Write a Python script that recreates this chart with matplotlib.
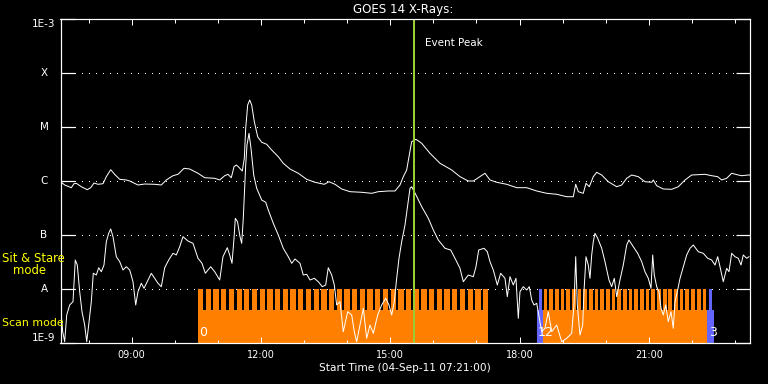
import matplotlib
matplotlib.use("Agg")
import matplotlib.pyplot as plt
import numpy as np
from matplotlib.ticker import NullLocator

# ---------------- data ----------------
# GOES 14 long channel (1-8 A): (clock hour, log10 flux W/m^2)
long_channel = [
    (7.355, -6.013), (7.447, -6.074), (7.601, -6.124), (7.663, -6.05), (7.717, -6.043),
    (7.833, -6.106), (7.972, -6.161), (8.051, -6.124), (8.127, -6.037), (8.22, -6.061),
    (8.336, -6.05), (8.413, -5.92), (8.515, -5.791), (8.621, -5.889), (8.724, -5.969),
    (8.877, -5.981), (8.956, -6.0), (9.148, -6.074), (9.304, -6.056), (9.536, -6.061),
    (9.689, -6.074), (9.805, -5.981), (9.96, -5.902), (10.076, -5.876), (10.215, -5.765),
    (10.348, -5.778), (10.54, -5.857), (10.696, -5.939), (10.928, -5.95), (11.044, -5.981),
    (11.16, -5.902), (11.236, -5.876), (11.313, -5.939), (11.376, -5.735), (11.429, -5.704),
    (11.475, -5.735), (11.568, -5.815), (11.615, -5.58), (11.647, -5.024), (11.693, -4.593),
    (11.74, -4.5), (11.786, -4.593), (11.847, -4.902), (11.925, -5.18), (12.018, -5.283),
    (12.134, -5.32), (12.25, -5.426), (12.403, -5.55), (12.519, -5.672), (12.675, -5.778),
    (12.867, -5.857), (13.062, -5.969), (13.255, -6.024), (13.471, -6.061), (13.58, -6.013),
    (13.719, -6.061), (13.874, -6.148), (14.067, -6.198), (14.338, -6.209), (14.57, -6.228),
    (14.724, -6.198), (14.956, -6.185), (15.111, -6.185), (15.227, -6.074), (15.304, -5.92),
    (15.382, -5.796), (15.436, -5.55), (15.498, -5.272), (15.598, -5.228), (15.731, -5.302),
    (15.923, -5.487), (16.155, -5.672), (16.427, -5.796), (16.619, -5.92), (16.812, -6.0),
    (16.928, -6.0), (17.044, -5.939), (17.199, -5.857), (17.315, -5.981), (17.471, -6.024),
    (17.703, -6.061), (17.935, -6.124), (18.167, -6.124), (18.399, -6.185), (18.631, -6.228),
    (18.863, -6.246), (19.095, -6.291), (19.248, -6.291), (19.304, -6.061), (19.364, -6.198),
    (19.48, -6.228), (19.543, -6.043), (19.619, -6.106), (19.712, -5.92), (19.791, -5.839),
    (19.907, -5.889), (20.06, -6.013), (20.255, -6.106), (20.371, -6.074), (20.487, -5.95),
    (20.603, -5.889), (20.756, -5.92), (20.911, -6.013), (21.067, -6.024), (21.104, -5.981),
    (21.183, -6.087), (21.336, -6.148), (21.531, -6.154), (21.684, -6.106), (21.84, -5.981),
    (21.995, -5.889), (22.304, -5.876), (22.459, -5.902), (22.598, -5.92), (22.691, -5.981),
    (22.807, -5.95), (22.923, -5.857), (23.076, -5.889), (23.155, -5.902), (23.308, -5.889),
    (23.348, -5.889),
]

# GOES 14 short channel (0.5-4 A): (clock hour, log10 flux W/m^2)
short_channel = [
    (7.355, -8.357), (7.401, -8.791), (7.447, -8.976), (7.494, -8.481), (7.563, -8.296),
    (7.64, -8.235), (7.693, -7.463), (7.74, -7.556), (7.795, -8.05), (7.849, -8.42),
    (7.911, -8.667), (7.958, -8.976), (8.004, -8.667), (8.065, -8.235), (8.111, -7.709),
    (8.181, -7.741), (8.236, -7.606), (8.297, -7.68), (8.359, -7.556), (8.413, -7.124),
    (8.468, -6.969), (8.515, -6.889), (8.568, -7.031), (8.645, -7.402), (8.724, -7.494),
    (8.8, -7.648), (8.877, -7.587), (8.956, -7.648), (9.032, -7.865), (9.095, -8.296),
    (9.148, -8.05), (9.225, -7.894), (9.287, -7.987), (9.38, -7.833), (9.457, -7.709),
    (9.536, -7.802), (9.612, -7.894), (9.689, -7.957), (9.768, -7.606), (9.86, -7.463),
    (9.96, -7.339), (10.037, -7.37), (10.116, -7.217), (10.192, -7.031), (10.308, -7.111),
    (10.424, -7.154), (10.54, -7.431), (10.633, -7.524), (10.71, -7.709), (10.835, -7.587),
    (10.928, -7.68), (11.044, -7.833), (11.12, -7.402), (11.22, -7.235), (11.276, -7.37),
    (11.329, -7.524), (11.376, -7.061), (11.406, -6.691), (11.457, -6.754), (11.515, -7.031),
    (11.554, -7.154), (11.591, -6.691), (11.647, -5.704), (11.677, -5.333), (11.724, -5.117),
    (11.77, -5.394), (11.833, -5.889), (11.902, -6.135), (12.018, -6.352), (12.111, -6.394),
    (12.171, -6.537), (12.287, -6.783), (12.403, -7.0), (12.519, -7.246), (12.635, -7.402),
    (12.714, -7.524), (12.791, -7.444), (12.907, -7.524), (12.983, -7.741), (13.062, -7.728),
    (13.139, -7.833), (13.239, -7.802), (13.331, -7.865), (13.424, -7.957), (13.503, -7.926),
    (13.563, -7.606), (13.642, -7.741), (13.703, -7.926), (13.758, -8.296), (13.835, -8.235),
    (13.911, -8.791), (14.014, -8.42), (14.106, -8.481), (14.167, -8.791), (14.222, -8.976),
    (14.299, -8.667), (14.376, -8.357), (14.454, -8.913), (14.531, -8.667), (14.608, -8.82),
    (14.71, -8.481), (14.802, -8.296), (14.895, -8.172), (14.972, -8.296), (15.034, -8.481),
    (15.095, -8.235), (15.15, -7.802), (15.204, -7.431), (15.266, -7.124), (15.343, -6.815),
    (15.406, -6.444), (15.459, -6.135), (15.498, -6.106), (15.598, -6.259), (15.731, -6.476),
    (15.884, -6.691), (16.0, -6.907), (16.116, -7.093), (16.271, -7.246), (16.403, -7.278),
    (16.503, -7.431), (16.619, -7.617), (16.696, -7.865), (16.812, -7.741), (16.928, -7.772),
    (16.99, -7.587), (17.053, -7.278), (17.176, -7.246), (17.253, -7.309), (17.315, -7.494),
    (17.392, -7.648), (17.485, -7.926), (17.563, -7.709), (17.663, -7.802), (17.717, -8.143),
    (17.779, -7.772), (17.856, -7.926), (17.918, -7.802), (17.972, -8.543), (18.011, -8.05),
    (18.088, -7.957), (18.167, -8.019), (18.227, -7.957), (18.283, -8.204), (18.336, -8.296),
    (18.399, -8.265), (18.459, -8.543), (18.515, -8.791), (18.591, -8.728), (18.668, -8.42),
    (18.747, -8.791), (18.863, -8.667), (18.979, -8.976), (19.095, -8.913), (19.211, -8.82),
    (19.264, -8.296), (19.304, -7.402), (19.341, -8.296), (19.403, -8.852), (19.466, -8.667),
    (19.496, -8.05), (19.543, -7.402), (19.596, -7.556), (19.635, -7.802), (19.675, -7.37),
    (19.712, -7.124), (19.751, -6.969), (19.814, -7.061), (19.907, -7.246), (19.983, -7.494),
    (20.076, -7.833), (20.139, -7.957), (20.199, -7.802), (20.255, -8.143), (20.331, -7.833),
    (20.408, -7.556), (20.487, -7.185), (20.54, -7.093), (20.64, -7.217), (20.742, -7.339),
    (20.835, -7.494), (20.911, -7.68), (20.988, -7.802), (21.051, -7.987), (21.09, -7.37),
    (21.127, -7.741), (21.183, -7.957), (21.236, -8.05), (21.283, -8.357), (21.336, -8.481),
    (21.392, -8.296), (21.452, -8.606), (21.515, -8.42), (21.568, -8.728), (21.608, -8.235),
    (21.67, -8.019), (21.724, -7.802), (21.8, -7.587), (21.879, -7.37), (21.956, -7.246),
    (22.032, -7.185), (22.148, -7.309), (22.264, -7.339), (22.366, -7.431), (22.459, -7.463),
    (22.536, -7.556), (22.598, -7.402), (22.652, -7.587), (22.728, -7.865), (22.807, -7.617),
    (22.86, -7.68), (22.923, -7.339), (23.0, -7.402), (23.076, -7.431), (23.139, -7.556),
    (23.192, -7.37), (23.271, -7.431), (23.324, -7.402),
]

# observation studies (lower band): start hour, end hour, mode, study index
study_start = [10.540, 18.406, 18.534, 22.343]
study_end = [17.262, 18.534, 22.343, 22.512]
study_mode = ["scan", "sit", "scan", "sit"]
study_label = ["0", "1", "2", "3"]
study_label_hour = [10.56, 18.43, 18.58, 22.39]

# individual rasters (tall teeth up to A level)
rasters_study0 = [10.540, 10.719, 10.897, 11.076, 11.255, 11.434, 11.612, 11.791, 11.970, 12.148,
                  12.327, 12.506, 12.684, 12.863, 13.042, 13.221, 13.399, 13.578, 13.757, 13.935,
                  14.114, 14.293, 14.471, 14.650, 14.829, 15.008, 15.186, 15.365, 15.544, 15.722,
                  15.901, 16.080, 16.258, 16.437, 16.616, 16.795, 16.973, 17.152]
raster_len_study0 = 0.123
rasters_study2 = [18.561, 18.693, 18.824, 18.956, 19.087, 19.219, 19.351, 19.482, 19.614, 19.745,
                  19.877, 20.009, 20.140, 20.272, 20.403, 20.535, 20.667, 20.798, 20.930, 21.061,
                  21.193, 21.325, 21.456, 21.588, 21.719, 21.851, 21.983, 22.114, 22.246]
raster_len_study2 = 0.0858
sitstare_start = [18.452, 22.397]
sitstare_end = [18.522, 22.467]

event_peak = 15.545
x_start, x_end = 7.35, 23.348
major_hours = [9, 12, 15, 18, 21]
major_labels = ["09:00", "12:00", "15:00", "18:00", "21:00"]
minor_hours = list(range(8, 24))
y_levels = [1e-9, 1e-8, 1e-7, 1e-6, 1e-5, 1e-4, 1e-3]
y_labels = ["1E-9", "A", "B", "C", "M", "X", "1E-3"]
band_top = 10 ** -8.389
label_level = 10 ** -8.806

# ---------------- styling ----------------
ORANGE = "#ff8000"
BLUE = "#6464ff"
LIME = "#9acd32"
PX = 0.72  # one pixel in points at dpi 100

fig = plt.figure(figsize=(7.68, 3.84), dpi=100, facecolor="black")
ax = fig.add_axes([60.5 / 768, 1 - 343 / 384, 689.5 / 768, 324 / 384])
ax.set_facecolor("black")
ax.set_yscale("log")
ax.set_xlim(x_start, x_end)
ax.set_ylim(1e-9, 1e-3)

# dotted grid at class levels
for lev in y_levels[1:-1]:
    ax.axhline(lev, color="white", lw=PX, ls=(0, (1, 6)), zorder=0.5, antialiased=False)

# study bands
for s, e, m in zip(study_start, study_end, study_mode):
    ax.bar(s, band_top - 1e-9, width=e - s, bottom=1e-9, align="edge",
           color=ORANGE if m == "scan" else BLUE, linewidth=0, zorder=1)
ax.bar(rasters_study0, 1e-8 - 1e-9, width=raster_len_study0, bottom=1e-9, align="edge",
       color=ORANGE, linewidth=0, zorder=1)
ax.bar(rasters_study2, 1e-8 - 1e-9, width=raster_len_study2, bottom=1e-9, align="edge",
       color=ORANGE, linewidth=0, zorder=1)
ax.bar(sitstare_start, 1e-8 - 1e-9, width=np.array(sitstare_end) - np.array(sitstare_start),
       bottom=1e-9, align="edge", color=BLUE, linewidth=0, zorder=1)

# GOES curves
lt, lf = zip(*long_channel)
st, sf = zip(*short_channel)
ax.plot(lt, 10 ** np.array(lf), color="white", lw=PX, zorder=3)
ax.plot(st, 10 ** np.array(sf), color="white", lw=PX, zorder=3)

# study numbers
for h, lab in zip(study_label_hour, study_label):
    ax.text(h, label_level, lab, color="white", fontsize=9, ha="left", va="center", zorder=4)

# event peak line
ax.axvline(event_peak, color=LIME, lw=2 * PX, zorder=5)
ax.annotate("Event Peak", xy=(event_peak, 1e-3), xytext=(11 * PX, -24 * PX),
            textcoords="offset points", color="white", fontsize=7.5, ha="left", va="center")

# axes / ticks
for sp in ax.spines.values():
    sp.set_color("white")
    sp.set_linewidth(1.2 * PX)
    sp.set_zorder(6)
ax.set_xticks(major_hours)
ax.set_xticklabels(major_labels)
ax.set_xticks(minor_hours, minor=True)
ax.tick_params(axis="x", which="major", direction="in", length=6 * PX, width=PX,
               top=True, bottom=True, colors="white", labelsize=7, pad=7 * PX)
ax.tick_params(axis="x", which="minor", direction="in", length=3.5 * PX, width=PX,
               top=True, bottom=True, colors="white")
ax.set_yticks(y_levels)
ax.yaxis.set_minor_locator(NullLocator())
ax.set_yticklabels([])
ax.tick_params(axis="y", which="major", direction="in", length=14 * PX, width=1.2 * PX,
               left=True, right=True, colors="white")

ylx = (44 - 60.5) / 689.5
for lev, lab in zip(y_levels, y_labels):
    va = "center"
    if lab == "1E-9":
        va = "bottom"
    elif lab == "1E-3":
        va = "top"
    ax.text(ylx, lev, lab, transform=ax.get_yaxis_transform(), color="white",
            fontsize=7.5, ha="center", va=va, clip_on=False)

# titles and side labels
fig.text(403 / 768, 1 - 9.5 / 384, "GOES 14 X-Rays:", color="white", fontsize=8.6,
         ha="center", va="center")
fig.text(405 / 768, 1 - 368 / 384, "Start Time (04-Sep-11 07:21:00)", color="white",
         fontsize=7.6, ha="center", va="center")
fig.text(2 / 768, 1 - 259 / 384, "Sit & Stare", color="yellow", fontsize=8.4,
         ha="left", va="center")
fig.text(12.7 / 768, 1 - 271 / 384, "mode", color="yellow", fontsize=8.4,
         ha="left", va="center")
fig.text(2 / 768, 1 - 323.5 / 384, "Scan mode", color="yellow", fontsize=7.9,
         ha="left", va="center")

fig.savefig("out.png", dpi=100, facecolor="black")
